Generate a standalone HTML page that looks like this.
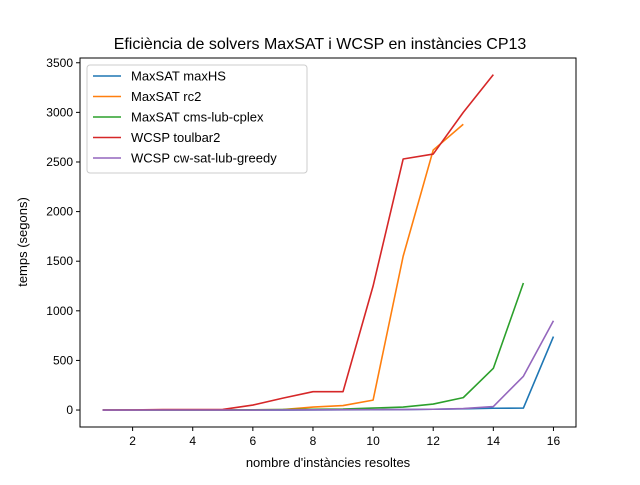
<!DOCTYPE html>
<html><head><meta charset="utf-8"><style>body{margin:0;background:#fff}svg{font-family:"Liberation Sans","DejaVu Sans",sans-serif}</style></head>
<body>
<svg id="chart" width="640" height="480"></svg>
<script>
const xCats=[1,2,3,4,5,6,7,8,9,10,11,12,13,14,15,16];
const maxhs=[0,0,0,0,0,0,0,1,2,3,5,8,12,18,20,740];
const rc2=[0,0,0,0,1,2,5,30,45,100,1550,2620,2880];
const cms=[0,0,0,0,1,2,5,8,10,20,30,60,125,420,1280];
const toulbar2=[0,1,5,5,6,50,120,185,185,1250,2530,2580,3000,3380];
const cw=[0,0,0,0,0,0,1,2,3,4,5,8,15,35,340,900];
const xTicks=[2,4,6,8,10,12,14,16];
const yTicks=[0,500,1000,1500,2000,2500,3000,3500];
const series=[["MaxSAT maxHS",maxhs,"#1f77b4"],["MaxSAT rc2",rc2,"#ff7f0e"],["MaxSAT cms-lub-cplex",cms,"#2ca02c"],["WCSP toulbar2",toulbar2,"#d62728"],["WCSP cw-sat-lub-greedy",cw,"#9467bd"]];
const L=80,R=576,T=58,B=427,xmin=0.25,xmax=16.75,ymin=-171,ymax=3548;
const X=v=>L+(v-xmin)/(xmax-xmin)*(R-L);
const Y=v=>B-(v-ymin)/(ymax-ymin)*(B-T);
const s=document.getElementById('chart');const NS="http://www.w3.org/2000/svg";
function mk(t,a,p){const e=document.createElementNS(NS,t);for(const k in a)e.setAttribute(k,a[k]);(p||s).appendChild(e);return e;}
let t=mk('text',{x:320,y:49,'text-anchor':'middle','font-size':16});t.textContent="Eficiència de solvers MaxSAT i WCSP en instàncies CP13";


xTicks.forEach(v=>{const g=mk('g',{});


mk('line',{x1:X(v),x2:X(v),y1:B,y2:B+4,stroke:'#000'},g);const tt=mk('text',{x:X(v),y:B+18,'text-anchor':'middle','font-size':12},g);tt.textContent=v;});
yTicks.forEach(v=>{const g=mk('g',{});


mk('line',{x1:L-4,x2:L,y1:Y(v),y2:Y(v),stroke:'#000'},g);const tt=mk('text',{x:L-7,y:Y(v)+4,'text-anchor':'end','font-size':12},g);tt.textContent=v;});
t=mk('text',{x:328,y:467,'text-anchor':'middle','font-size':13});t.textContent="nombre d'instàncies resoltes";


t=mk('text',{x:27,y:242,'text-anchor':'middle','font-size':13,transform:'rotate(-90 27 242)'});t.textContent="temps (segons)";


series.forEach(([n,d,c])=>{const p=mk('polyline',{points:d.map((v,i)=>X(xCats[i])+','+Y(v)).join(' '),fill:'none',stroke:c,'stroke-width':1.6,'stroke-linejoin':'round'});

});
const fr=mk('rect',{x:L,y:T,width:R-L,height:B-T,fill:'none',stroke:'#000','stroke-width':1});


const lg=mk('g',{});


mk('rect',{x:87,y:65,width:220,height:108,rx:3,fill:'#fff','fill-opacity':0.8,stroke:'#ccc'},lg);
series.forEach(([n,d,c],i)=>{const g=mk('g',{},lg);


const y=76+i*20.5;mk('line',{x1:93,x2:121,y1:y,y2:y,stroke:c,'stroke-width':1.6},g);const tt=mk('text',{x:131,y:y+4.5,'font-size':13},g);tt.textContent=n;});
</script>
</body></html>
